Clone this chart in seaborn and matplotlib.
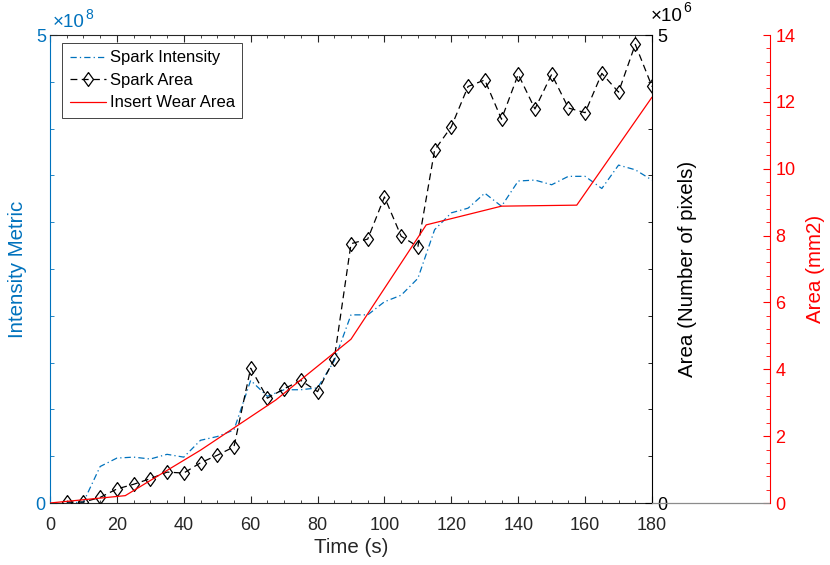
import matplotlib
matplotlib.use("Agg")
import matplotlib.pyplot as plt
from matplotlib.ticker import MultipleLocator, FixedLocator
import seaborn as sns

# spark measurements, every 5 s
time_s = [5, 10, 15, 20, 25, 30, 35, 40, 45, 50, 55, 60, 65, 70, 75, 80, 85, 90,
          95, 100, 105, 110, 115, 120, 125, 130, 135, 140, 145, 150, 155, 160,
          165, 170, 175, 180]
# intensity metric in units of 1e8
spark_intensity = [0.0, 0.01, 0.39, 0.48, 0.49, 0.47, 0.52, 0.49, 0.67, 0.71,
                   0.78, 1.31, 1.14, 1.21, 1.21, 1.23, 1.52, 2.01, 2.01, 2.15,
                   2.22, 2.40, 2.92, 3.10, 3.15, 3.31, 3.17, 3.44, 3.45, 3.40,
                   3.49, 3.49, 3.36, 3.61, 3.56, 3.45]
# spark area in units of 1e6 pixels
spark_area = [0.01, 0.01, 0.06, 0.15, 0.20, 0.26, 0.33, 0.32, 0.43, 0.51, 0.60,
              1.44, 1.12, 1.22, 1.31, 1.19, 1.54, 2.77, 2.82, 3.27, 2.85, 2.74,
              3.77, 4.02, 4.45, 4.52, 4.10, 4.58, 4.21, 4.58, 4.22, 4.17, 4.59,
              4.39, 4.90, 4.45]

# insert wear, measured every 22.5 s
wear_time_s = [0, 22.5, 45, 67.5, 90, 112.5, 135, 157.5, 180]
wear_area_mm2 = [0.0, 0.22, 1.58, 3.08, 4.90, 8.32, 8.88, 8.91, 12.14]

BLUE = "#0072BD"
RED = "#FF0000"
DARK = "#262626"
# MATLAB-like diamond, a bit wider than matplotlib's thin "d"
DIAMOND = [(0, 1), (0.72, 0), (0, -1), (-0.72, 0), (0, 1)]

sns.set_style("white")
plt.rcParams["font.family"] = ["Liberation Sans", "DejaVu Sans"]
plt.rcParams["axes.linewidth"] = 0.8

fig = plt.figure(figsize=(8.3, 5.65), dpi=100)
ax = fig.add_axes([50 / 830, 62 / 565, 602 / 830, 468 / 565])
ax2 = ax.twinx()
ax3 = ax.twinx()

# curves
sns.lineplot(x=time_s, y=spark_intensity, ax=ax, color=BLUE, lw=0.9,
             linestyle=(0, (5, 2.5, 1, 2.5)), label="Spark Intensity", legend=False)
sns.lineplot(x=time_s, y=spark_area, ax=ax2, color="black", lw=0.9,
             linestyle=(0, (5.5, 3.5)), marker=DIAMOND, markersize=10,
             markerfacecolor="none", markeredgecolor="black", markeredgewidth=0.9,
             label="Spark Area", legend=False)
sns.lineplot(x=wear_time_s, y=wear_area_mm2, ax=ax3, color=RED, lw=0.9,
             label="Insert Wear Area", legend=False)


def exponent_label(axis, x, y, power, color):
    # "x10" followed by a raised power, like the MATLAB axis multiplier
    axis.text(x, y, "\u00d710", transform=axis.transAxes, color=color,
              fontsize=13.5, ha="left", va="bottom")
    axis.annotate(str(power), xy=(x, y), xycoords=axis.transAxes,
                  xytext=(23.5, 7), textcoords="offset points", color=color,
                  fontsize=10, ha="left", va="bottom")


# x axis
ax.set_xlim(0, 180)
ax.xaxis.set_major_locator(MultipleLocator(20))
ax.xaxis.set_minor_locator(MultipleLocator(5))
ax.tick_params(axis="x", which="both", direction="in", top=True, bottom=True,
               colors=DARK, labelsize=13, pad=10)
ax.tick_params(axis="x", which="major", length=5)
ax.tick_params(axis="x", which="minor", length=2.5)
ax.set_xlabel("Time (s)", fontsize=14.8, color=DARK, labelpad=3)

# left axis: intensity
ax.set_ylim(0, 5)
ax.yaxis.set_major_locator(FixedLocator([0, 5]))
ax.yaxis.set_minor_locator(MultipleLocator(0.5))
ax.tick_params(axis="y", which="both", direction="in", colors=BLUE,
               labelsize=13, pad=3)
ax.tick_params(axis="y", which="major", length=5)
ax.tick_params(axis="y", which="minor", length=3)
ax.set_ylabel("Intensity Metric", color=BLUE, fontsize=14.8)
ax.yaxis.set_label_coords(-0.038, 0.5)
ax.spines["left"].set_color(BLUE)
ax.spines["bottom"].set_color(DARK)
ax.spines["top"].set_color(DARK)
ax.spines["right"].set_visible(False)
exponent_label(ax, 0.004, 1.008, 8, BLUE)

# middle axis: spark area in pixels
ax2.set_ylim(0, 5)
ax2.yaxis.set_major_locator(FixedLocator([0, 5]))
ax2.yaxis.set_minor_locator(MultipleLocator(0.5))
ax2.tick_params(axis="y", which="both", direction="in", colors="black",
                labelsize=13, pad=4)
ax2.tick_params(axis="y", which="major", length=5)
ax2.tick_params(axis="y", which="minor", length=3)
for side in ["left", "top", "bottom"]:
    ax2.spines[side].set_visible(False)
ax2.spines["right"].set_color("black")
ax2.set_ylabel("Area (Number of pixels)", fontsize=14.8, color="black")
ax2.yaxis.set_label_coords(1.043, 0.5)
exponent_label(ax2, 0.998, 1.022, 6, "black")

# right axis: wear area in mm2
ax3.set_ylim(0, 14)
ax3.spines["right"].set_position(("axes", 1.196))
ax3.yaxis.set_major_locator(MultipleLocator(2))
ax3.yaxis.set_minor_locator(MultipleLocator(0.4))
ax3.tick_params(axis="y", which="both", direction="in", colors=RED,
                labelsize=13, pad=4)
ax3.tick_params(axis="y", which="major", length=5)
ax3.tick_params(axis="y", which="minor", length=3)
for side in ["left", "top", "bottom"]:
    ax3.spines[side].set_visible(False)
ax3.spines["right"].set_color(RED)
ax3.set_ylabel("Area (mm2)", fontsize=14.8, color=RED)
ax3.yaxis.set_label_coords(1.256, 0.5)
ax3.plot([1.0, 1.196], [0, 0], transform=ax3.transAxes, clip_on=False,
         color="#8c8c8c", lw=0.9)

handles = ax.get_lines()[:1] + ax2.get_lines()[:1] + ax3.get_lines()[:1]
leg = ax3.legend(handles=handles, labels=["Spark Intensity", "Spark Area", "Insert Wear Area"],
                 loc="upper left", bbox_to_anchor=(0.02, 0.983), borderaxespad=0,
                 fontsize=12, frameon=True, fancybox=False, framealpha=1,
                 edgecolor=DARK, handlelength=2.2, handletextpad=0.2,
                 labelspacing=0.45, borderpad=0.45, numpoints=1)
leg.get_frame().set_linewidth(0.6)
for t in leg.get_texts():
    t.set_color("black")

fig.savefig("out.png", dpi=100)
